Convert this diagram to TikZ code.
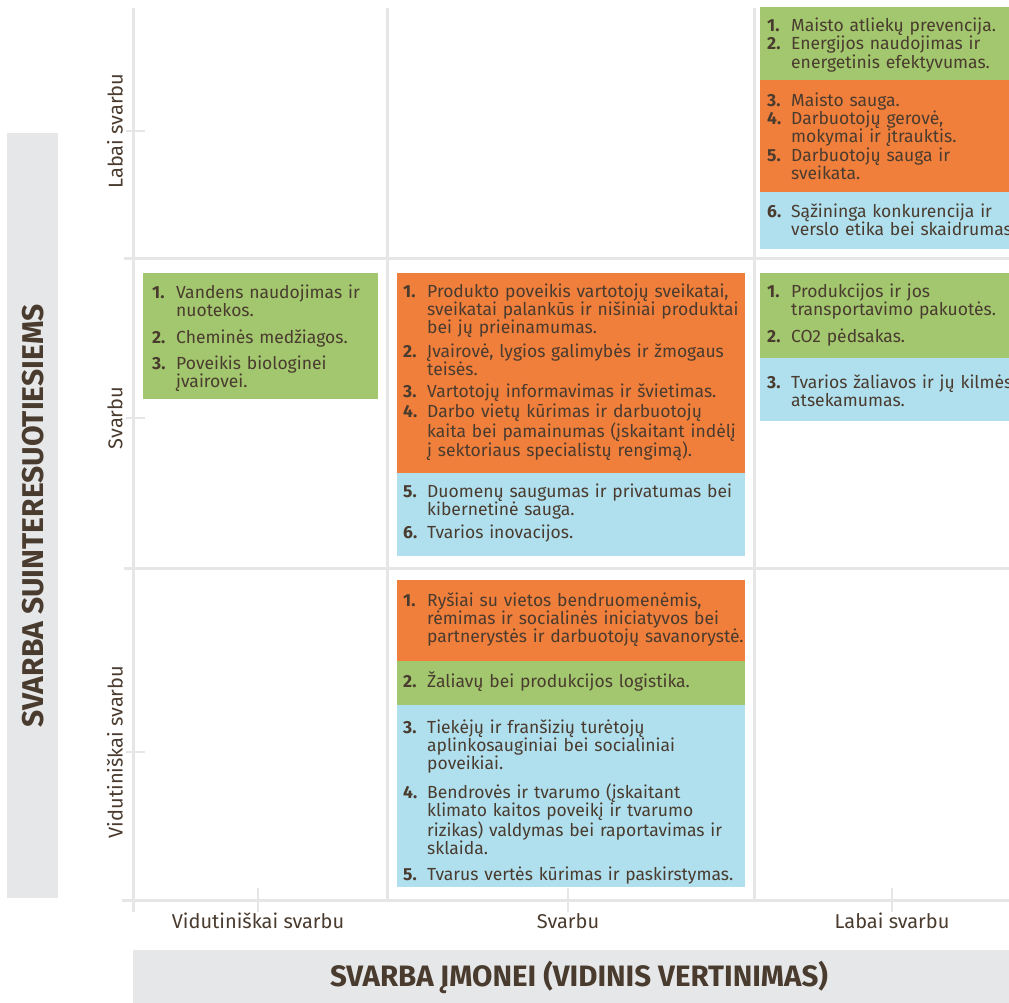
\documentclass[tikz,border=0pt]{standalone}
\usepackage{fontspec}
\setmainfont{Fira Sans}
\definecolor{ink}{HTML}{4A3B2F}
\definecolor{leaf}{HTML}{A2C76E}
\definecolor{rust}{HTML}{F07F3C}
\definecolor{sky}{HTML}{B0E0EE}
\definecolor{rule}{HTML}{E6E6E6}
\definecolor{band}{HTML}{E6E7E8}
\newcommand{\itemno}[1]{\makebox[24pt][l]{\textbf{#1.}}}
\newcommand{\wrapin}{\hspace*{24pt}}
\begin{document}
\begin{tikzpicture}[x=1pt, y=-1pt,
  grid/.style={draw=rule, line width=3pt},
  tickmark/.style={draw=rule, line width=2pt},
  itemlist/.style={anchor=north west, inner sep=0pt, text=ink, text width=400pt,
    align=left, font=\fontsize{17.5}{18}\selectfont,
    execute at begin node={\rule{0pt}{17pt}}},
  axislabel/.style={text=ink, inner sep=0pt, font=\fontsize{20}{22}\selectfont},
  axistitle/.style={text=ink, inner sep=0pt, font=\fontsize{30}{34}\selectfont\bfseries}]
    \useasboundingbox (0,0) rectangle (1009,1003);
    \clip (0,0) rectangle (1009,1003);

    % Title bars
    \fill[band] (7,133) rectangle (58,898);
    \fill[band] (133,950) rectangle (1012,1003);
    \node[axistitle, rotate=90] (ytitle) at (33,516) {SVARBA SUINTERESUOTIESIEMS};
    \node[axistitle, font=\fontsize{29.5}{34}\selectfont\bfseries] (xtitle) at (579,977)
      {SVARBA ĮMONEI (VIDINIS VERTINIMAS)};

    % Grid
    \draw[grid] (133,8) -- (133,912);
    \draw[grid] (122,900) -- (1012,900);
    \foreach \y in {258, 568} {
      \draw[grid] (124,\y) -- (1012,\y);
    }
    \foreach \x in {387, 754} {
      \draw[grid] (\x,8) -- (\x,900);
    }

    % Ticks and axis labels
    \foreach \y/\txt [count=\i] in {131/Labai svarbu, 418/Svarbu, 752/Vidutiniškai svarbu} {
      \draw[tickmark] (126,\y) -- (145,\y);
      \node[axislabel, rotate=90] (ylab\i) at (115,\y) {\txt};
    }
    \foreach \x/\txt [count=\i] in {258/Vidutiniškai svarbu, 568/Svarbu, 892/Labai svarbu} {
      \draw[tickmark] (\x,888) -- (\x,912);
      \node[axislabel] (xlab\i) at (\x,921) {\txt};
    }

    % Labai svarbu / Labai svarbu
    \fill[leaf] (760,7) rectangle (1012,80);
    \fill[rust] (760,80) rectangle (1012,192);
    \fill[sky] (760,192) rectangle (1012,249);
    \node[itemlist] (hhA) at (767,14) {\itemno{1}Maisto atliekų prevencija.\\[0.5pt]
      \itemno{2}Energijos naudojimas ir\\[0.5pt]
      \wrapin energetinis efektyvumas.};
    \node[itemlist] (hhB) at (767,89) {\itemno{3}Maisto sauga.\\[0.4pt]
      \itemno{4}Darbuotojų gerovė,\\[0.4pt]
      \wrapin mokymai ir įtrauktis.\\[0.4pt]
      \itemno{5}Darbuotojų sauga ir\\[0.4pt]
      \wrapin sveikata.};
    \node[itemlist] (hhC) at (767,200) {\itemno{6}Sąžininga konkurencija ir\\
      \wrapin verslo etika bei skaidrumas.};

    % Svarbu / Vidutiniškai svarbu
    \fill[leaf] (143,273) rectangle (378,399);
    \node[itemlist] (mlA) at (152,281) {\itemno{1}Vandens naudojimas ir\\
      \wrapin nuotekos.\\[9pt]
      \itemno{2}Cheminės medžiagos.\\[8pt]
      \itemno{3}Poveikis biologinei\\
      \wrapin įvairovei.};

    % Svarbu / Svarbu
    \fill[rust] (397,273) rectangle (745,473);
    \fill[sky] (397,473) rectangle (745,556);
    \node[itemlist] (mmA) at (403,280) {\itemno{1}Produkto poveikis vartotojų sveikatai,\\
      \wrapin sveikatai palankūs ir nišiniai produktai\\
      \wrapin bei jų prieinamumas.\\[6.5pt]
      \itemno{2}Įvairovė, lygios galimybės ir žmogaus\\
      \wrapin teisės.\\[4pt]
      \itemno{3}Vartotojų informavimas ir švietimas.\\[1.5pt]
      \itemno{4}Darbo vietų kūrimas ir darbuotojų\\
      \wrapin kaita bei pamainumas (įskaitant indėlį\\
      \wrapin į sektoriaus specialistų rengimą).};
    \node[itemlist] (mmB) at (403,480) {\itemno{5}Duomenų saugumas ir privatumas bei\\
      \wrapin kibernetinė sauga.\\[5pt]
      \itemno{6}Tvarios inovacijos.};

    % Svarbu / Labai svarbu
    \fill[leaf] (760,273) rectangle (1012,358);
    \fill[sky] (760,358) rectangle (1012,421);
    \node[itemlist] (mhA) at (767,280) {\itemno{1}Produkcijos ir jos\\
      \wrapin transportavimo pakuotės.\\[9pt]
      \itemno{2}CO2 pėdsakas.};
    \node[itemlist] (mhB) at (767,371) {\itemno{3}Tvarios žaliavos ir jų kilmės\\
      \wrapin atsekamumas.};

    % Vidutiniškai svarbu / Svarbu
    \fill[rust] (397,580) rectangle (745,661);
    \fill[leaf] (397,661) rectangle (745,705);
    \fill[sky] (397,705) rectangle (745,887);
    \node[itemlist] (lmA) at (403,589) {\itemno{1}Ryšiai su vietos bendruomenėmis,\\
      \wrapin rėmimas ir socialinės iniciatyvos bei\\
      \wrapin partnerystės ir darbuotojų savanorystė.};
    \node[itemlist] (lmB) at (403,670) {\itemno{2}Žaliavų bei produkcijos logistika.};
    \node[itemlist] (lmC) at (403,716) {\itemno{3}Tiekėjų ir franšizių turėtojų\\
      \wrapin aplinkosauginiai bei socialiniai\\
      \wrapin poveikiai.\\[10pt]
      \itemno{4}Bendrovės ir tvarumo (įskaitant\\
      \wrapin klimato kaitos poveikį ir tvarumo\\
      \wrapin rizikas) valdymas bei raportavimas ir\\
      \wrapin sklaida.\\[8pt]
      \itemno{5}Tvarus vertės kūrimas ir paskirstymas.};
\end{tikzpicture}
\end{document}
